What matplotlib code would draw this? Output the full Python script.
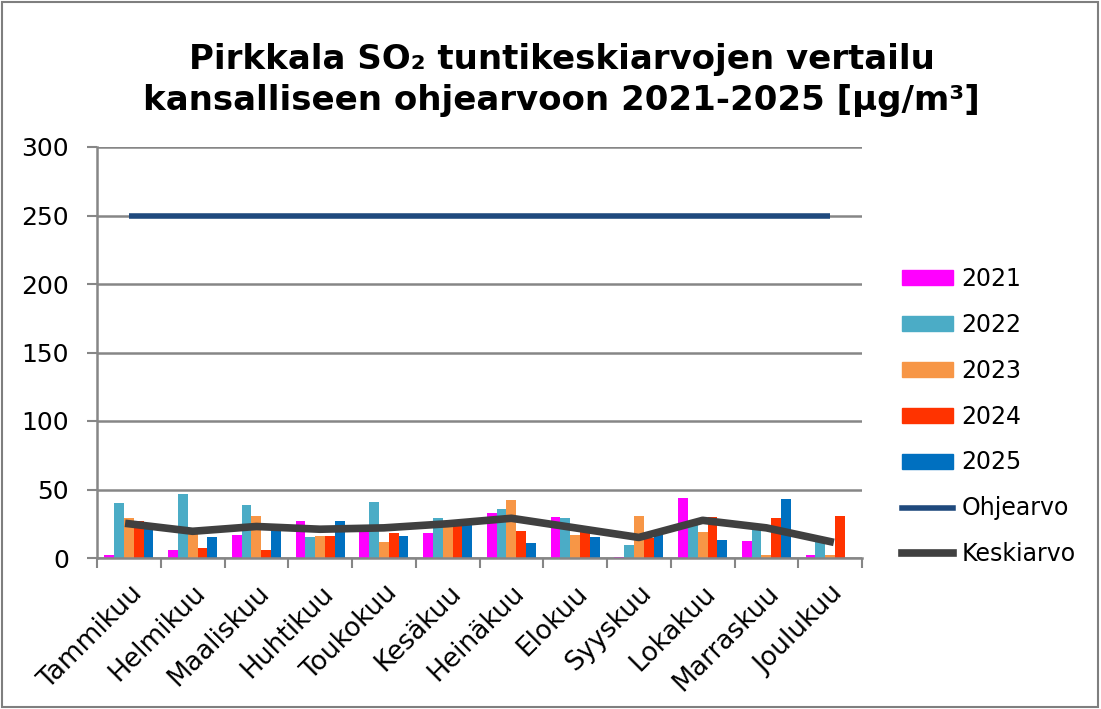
import numpy as np
import matplotlib
matplotlib.use('Agg')
import matplotlib.pyplot as plt
from matplotlib.patches import Patch
from matplotlib.lines import Line2D

plt.rcParams['font.family'] = ['DejaVu Sans']

kuukaudet = ['Tammikuu', 'Helmikuu', 'Maaliskuu', 'Huhtikuu', 'Toukokuu', 'Kesäkuu',
             'Heinäkuu', 'Elokuu', 'Syyskuu', 'Lokakuu', 'Marraskuu', 'Joulukuu']
v2021 = [2, 5.5, 17, 27, 19, 18.5, 33, 30, 1, 44, 12.5, 2]
v2022 = [40, 47, 38.5, 15, 41, 29, 36, 29, 9.5, 24, 21, 12]
v2023 = [29, 20, 31, 16, 11.5, 24, 42, 17, 31, 19, 2, 2]
v2024 = [27, 7.5, 5.5, 16, 18, 28, 20, 19.5, 14.5, 30, 29, 31]
v2025 = [24, 15.5, 22, 27, 16, 25, 11, 15.5, 17, 13, 43, 0]
ohjearvo = [250] * 12
keskiarvo = [25, 19.5, 23, 21, 22, 25, 29, 22, 15, 27.5, 22, 12]

sarjat = [('2021', v2021, '#FF00FF'), ('2022', v2022, '#4BACC6'),
          ('2023', v2023, '#F79646'), ('2024', v2024, '#FF3300'),
          ('2025', v2025, '#0070C0')]

fig = plt.figure(figsize=(11.01, 7.09), dpi=100)
ax = fig.add_axes([97/1101, 1 - 558/709, (862-97)/1101, (558-147)/709])

x = np.arange(len(kuukaudet))
w = 0.154
for i, (nimi, arvot, vari) in enumerate(sarjat):
    ax.bar(x + (i - 2) * w, arvot, w, color=vari, zorder=2)
ax.plot(x, ohjearvo, color='#1F497D', lw=4, zorder=3, solid_capstyle='butt')
ax.plot(x, keskiarvo, color='#404040', lw=5.5, zorder=4)

ax.set_xlim(-0.5, 11.5)
ax.set_ylim(0, 300)
ax.set_yticks(range(0, 301, 50))
ax.yaxis.grid(True, color='#868686', lw=1.8, zorder=0)
ax.set_xticks(np.arange(-0.5, 12, 1), minor=False)
ax.set_xticklabels([])
ax.set_xticks(x, minor=True)
ax.set_xticklabels(kuukaudet, minor=True, rotation=45, ha='right', rotation_mode='anchor', fontsize=19)
ax.tick_params(axis='x', which='minor', length=0, pad=16)
ax.tick_params(axis='x', which='major', length=7, width=1.5, color='#868686')
ax.tick_params(axis='y', length=7, width=1.5, color='#868686', labelsize=18, pad=13)
for s in ['top', 'right']:
    ax.spines[s].set_visible(False)
for s in ['left', 'bottom']:
    ax.spines[s].set_color('#868686')
    ax.spines[s].set_linewidth(1.8)

fig.text(0.51, 0.887, 'Pirkkala SO₂ tuntikeskiarvojen vertailu\nkansalliseen ohjearvoon 2021-2025 [µg/m³]',
         ha='center', va='center', fontsize=24.5, fontweight='bold', linespacing=1.32)

kahvat = [Patch(color=v) for _, _, v in sarjat]
kahvat += [Line2D([], [], color='#1F497D', lw=4), Line2D([], [], color='#404040', lw=5.5)]
nimet = [n for n, _, _ in sarjat] + ['Ohjearvo', 'Keskiarvo']
fig.legend(kahvat, nimet, loc='center left', bbox_to_anchor=(902/1101, 1 - 416.5/709),
           frameon=False, fontsize=17, handlelength=2.16, handleheight=0.6,
           labelspacing=0.93, handletextpad=0.35, borderaxespad=0, borderpad=0)

fig.add_artist(plt.Rectangle((0.002, 0.003), 0.995, 0.994, transform=fig.transFigure,
                             fill=False, ec='#7F7F7F', lw=1.5))
fig.savefig('out.png', dpi=100)
